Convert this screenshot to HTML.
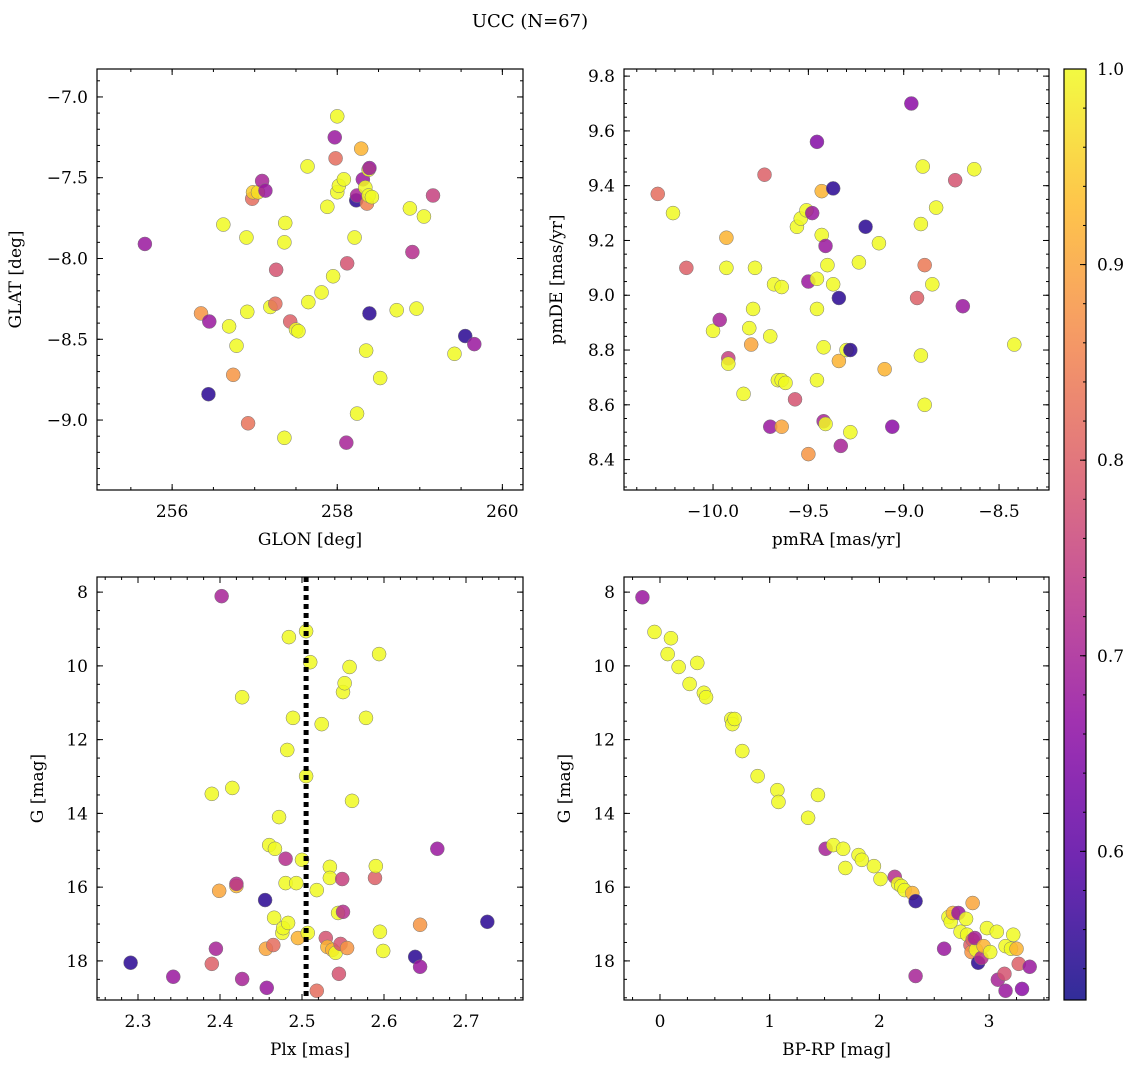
<!DOCTYPE html>
<html><head><meta charset="utf-8"><style>
html,body{margin:0;padding:0;background:#fff;}
svg{display:block;font-family:"DejaVu Serif","Liberation Serif",serif;}
</style></head><body>
<svg id="fig" width="1136" height="1068" viewBox="0 0 1136 1068" xmlns="http://www.w3.org/2000/svg">
<text x="530" y="27" font-size="18" text-anchor="middle">UCC (N=67)</text>
</svg>
<script>
// Panel 1: GLON vs GLAT
const p1x=[255.67,256.35,256.45,256.44,256.62,256.69,256.78,256.74,256.90,256.92,256.91,256.97,256.98,257.04,257.09,257.13,257.19,257.25,257.26,257.37,257.36,257.36,257.43,257.50,257.53,257.64,257.65,257.81,257.88,257.95,258.0,257.97,257.98,258.0,258.02,258.08,258.11,258.12,258.21,258.23,258.24,258.24,258.29,258.31,258.34,258.35,258.36,258.38,258.38,258.39,258.39,258.42,258.52,258.72,258.88,258.91,258.96,259.05,259.16,259.42,259.55,259.66];
const p1y=[-7.91,-8.34,-8.39,-8.84,-7.79,-8.42,-8.54,-8.72,-7.87,-9.02,-8.33,-7.63,-7.59,-7.59,-7.52,-7.58,-8.30,-8.28,-8.07,-7.78,-7.90,-9.11,-8.39,-8.44,-8.45,-7.43,-8.27,-8.21,-7.68,-8.11,-7.12,-7.25,-7.38,-7.59,-7.55,-7.51,-9.14,-8.03,-7.87,-7.64,-7.61,-8.96,-7.32,-7.51,-7.56,-8.57,-7.66,-7.61,-7.45,-7.44,-8.34,-7.62,-8.74,-8.32,-7.69,-7.96,-8.31,-7.74,-7.61,-8.59,-8.48,-8.53];
const p1c=[0.68,0.88,0.68,0.55,1,1,1,0.88,1,0.83,1,0.82,0.95,0.97,0.70,0.68,1,0.82,0.78,1,1,1,0.80,1,1,1,1,1,1,1,1,0.68,0.82,1,1,1,0.70,0.78,1,0.55,0.70,1,0.92,0.68,1,1,0.85,1,1,0.68,0.55,1,1,1,1,0.72,1,1,0.75,1,0.55,0.68];
// Panel 2: pmRA vs pmDE
const p2x=[-10.29,-10.21,-10.14,-10.0,-9.965,-9.93,-9.93,-9.92,-9.92,-9.84,-9.81,-9.80,-9.79,-9.78,-9.73,-9.70,-9.70,-9.68,-9.66,-9.64,-9.64,-9.64,-9.62,-9.57,-9.56,-9.54,-9.51,-9.50,-9.50,-9.48,-9.455,-9.455,-9.455,-9.455,-9.43,-9.43,-9.42,-9.42,-9.41,-9.41,-9.40,-9.37,-9.37,-9.34,-9.34,-9.33,-9.30,-9.28,-9.28,-9.235,-9.20,-9.13,-9.10,-9.06,-8.96,-8.93,-8.91,-8.91,-8.90,-8.89,-8.89,-8.85,-8.83,-8.73,-8.69,-8.63,-8.42];
const p2y=[9.37,9.30,9.10,8.87,8.91,9.21,9.10,8.77,8.75,8.64,8.88,8.82,8.95,9.10,9.44,8.85,8.52,9.04,8.69,8.69,9.03,8.52,8.68,8.62,9.25,9.28,9.31,8.42,9.05,9.30,9.06,8.95,9.56,8.69,9.22,9.38,8.81,8.54,8.53,9.18,9.11,9.39,9.04,8.99,8.76,8.45,8.80,8.50,8.80,9.12,9.25,9.19,8.73,8.52,9.70,8.99,8.78,9.26,9.47,9.11,8.60,9.04,9.32,9.42,8.96,9.46,8.82];
const p2c=[0.82,1,0.80,1,0.70,0.92,1,0.75,1,1,1,0.90,1,1,0.80,1,0.68,1,1,1,1,0.90,1,0.78,1,1,1,0.88,0.68,0.68,1,1,0.65,1,1,0.92,1,0.70,1,0.68,1,0.55,1,0.55,0.92,0.70,1,1,0.55,1,0.55,1,0.92,0.66,0.66,0.80,1,1,1,0.84,1,1,1,0.78,0.68,1,1];
// Panel 3: Plx vs G
const p3x=[2.291,2.343,2.390,2.390,2.395,2.399,2.402,2.415,2.420,2.420,2.427,2.427,2.455,2.456,2.457,2.460,2.465,2.466,2.467,2.472,2.476,2.477,2.480,2.480,2.483,2.484,2.482,2.489,2.493,2.495,2.500,2.505,2.505,2.507,2.510,2.518,2.518,2.524,2.529,2.531,2.534,2.534,2.537,2.541,2.544,2.545,2.547,2.549,2.550,2.550,2.552,2.555,2.558,2.561,2.578,2.589,2.590,2.594,2.595,2.599,2.644,2.638,2.644,2.665,2.726];
const p3y=[18.05,18.43,18.08,13.47,17.67,16.10,8.11,13.31,15.97,15.91,18.49,10.85,16.35,17.67,18.73,14.86,17.57,16.83,14.96,14.10,17.24,17.11,15.89,15.23,16.97,9.22,12.28,11.41,15.89,17.38,15.26,9.06,12.99,17.24,9.90,16.08,18.81,11.58,17.38,17.62,15.45,15.75,17.70,17.78,16.70,18.35,17.54,15.78,10.71,16.67,10.47,17.65,10.03,13.66,11.41,15.75,15.43,9.68,17.21,17.73,17.02,17.89,18.16,14.96,16.94];
const p3c=[0.55,0.68,0.80,1,0.70,0.90,0.70,1,0.93,0.72,0.70,1,0.55,0.90,0.68,1,0.82,1,1,1,1,1,1,0.72,1,1,1,1,1,0.92,1,1,1,1,1,1,0.82,1,0.78,0.92,1,1,0.92,1,1,0.78,0.78,0.75,1,0.72,1,0.88,1,1,1,0.80,1,1,1,1,0.88,0.55,0.68,0.68,0.55];
const p3median=[2.505];
// Panel 4: BP-RP vs G
const p4x=[-0.16,-0.05,0.07,0.10,0.17,0.27,0.34,0.40,0.42,0.65,0.66,0.68,0.75,0.89,1.07,1.08,1.35,1.44,1.51,1.58,1.67,1.69,1.81,1.84,1.95,2.01,2.14,2.17,2.20,2.23,2.30,2.33,2.33,2.59,2.63,2.65,2.67,2.72,2.74,2.79,2.80,2.83,2.84,2.85,2.85,2.88,2.87,2.90,2.93,2.95,2.98,3.01,3.07,3.08,3.14,3.15,3.15,3.20,3.22,3.25,3.27,3.30,3.37];
const p4y=[8.14,9.08,9.68,9.25,10.03,10.49,9.92,10.73,10.85,11.44,11.58,11.44,12.31,12.99,13.37,13.69,14.12,13.50,14.96,14.86,14.96,15.48,15.13,15.26,15.43,15.78,15.72,15.91,15.97,16.08,16.16,16.38,18.41,17.67,16.81,16.94,16.70,16.70,17.21,16.86,17.29,17.57,17.76,16.43,17.43,17.70,17.38,18.05,17.92,17.60,17.11,17.76,17.21,18.51,18.35,17.60,18.81,17.67,17.29,17.67,18.08,18.76,18.16];
const p4c=[0.68,1,1,1,1,1,1,1,1,1,1,1,1,1,1,1,1,1,0.70,1,1,1,1,1,1,1,0.72,1,1,1,0.92,0.55,0.70,0.68,1,1,0.92,0.68,1,1,1,0.80,0.88,0.90,0.80,1,0.70,0.55,0.72,0.92,1,1,1,0.70,0.78,1,0.68,1,1,0.92,0.80,0.66,0.68];
const cbTicks=[0.6,0.7,0.8,0.9,1.0];

const NS="http://www.w3.org/2000/svg";
const svg=document.getElementById('fig');
const VMIN=0.524,VMAX=1.0;
const stops=[[13,8,135],[84,2,163],[139,10,165],[185,50,137],[219,92,104],[244,136,73],[254,188,43],[240,249,33]];
function plasma(v){let t=Math.max(0,Math.min(1,(v-VMIN)/(VMAX-VMIN)))*(stops.length-1);let i=Math.min(Math.floor(t),stops.length-2),f=t-i;const a=stops[i],b=stops[i+1];return `rgb(${a.map((c,k)=>Math.round(c+(b[k]-c)*f)).join(',')})`;}
function el(tag,attrs,parent){const e=document.createElementNS(NS,tag);for(const k in attrs)e.setAttribute(k,attrs[k]);(parent||svg).appendChild(e);return e;}
function fmt(v,d){let s=v.toFixed(d);return s.replace('-','\u2212');}

function panel(o){
  const g=el('g',{});
  
  
  const sx=v=>o.L+(v-o.x0)/(o.x1-o.x0)*(o.R-o.L);
  const sy=o.yinv?(v=>o.T+(v-o.y0)/(o.y1-o.y0)*(o.B-o.T)):(v=>o.B-(v-o.y0)/(o.y1-o.y0)*(o.B-o.T));
  for(let i=0;i<o.xs.length;i++){
    const c=el('circle',{cx:sx(o.xs[i]),cy:sy(o.ys[i]),r:7,fill:plasma(o.cs[i]),'fill-opacity':0.85,stroke:'#777','stroke-width':0.5},g);
    
    
  }
  if(o.vline){for(const v of o.vline){const l=el('line',{x1:sx(v),x2:sx(v),y1:o.T,y2:o.B,stroke:'#000','stroke-width':5,'stroke-dasharray':'5,4'},g);
    
    }}
  const fr=el('rect',{x:o.L,y:o.T,width:o.R-o.L,height:o.B-o.T,fill:'none',stroke:'#000','stroke-width':1.2},g);
  
  
  const lo=Math.min(o.x0,o.x1),hi=Math.max(o.x0,o.x1);
  for(let v=Math.ceil(lo/o.xmin-1e-6)*o.xmin;v<=hi+1e-9;v+=o.xmin){const X=sx(v);el('line',{x1:X,x2:X,y1:o.B,y2:o.B-3,stroke:'#000'},g);el('line',{x1:X,x2:X,y1:o.T,y2:o.T+3,stroke:'#000'},g);}
  for(const v of o.xt){const X=sx(v);el('line',{x1:X,x2:X,y1:o.B,y2:o.B-6,stroke:'#000'},g);el('line',{x1:X,x2:X,y1:o.T,y2:o.T+6,stroke:'#000'},g);
    const t=el('text',{x:X,y:o.B+27,'font-size':17,'text-anchor':'middle'},g);t.textContent=fmt(v,o.xd);
    
    }
  const ylo=Math.min(o.y0,o.y1),yhi=Math.max(o.y0,o.y1);
  for(let v=Math.ceil(ylo/o.ymin-1e-6)*o.ymin;v<=yhi+1e-9;v+=o.ymin){const Y=sy(v);el('line',{x1:o.L,x2:o.L+3,y1:Y,y2:Y,stroke:'#000'},g);el('line',{x1:o.R,x2:o.R-3,y1:Y,y2:Y,stroke:'#000'},g);}
  for(const v of o.yt){const Y=sy(v);el('line',{x1:o.L,x2:o.L+6,y1:Y,y2:Y,stroke:'#000'},g);el('line',{x1:o.R,x2:o.R-6,y1:Y,y2:Y,stroke:'#000'},g);
    const t=el('text',{x:o.L-9,y:Y+6,'font-size':17,'text-anchor':'end'},g);t.textContent=fmt(v,o.yd);
    
    }
  const xl=el('text',{x:(o.L+o.R)/2,y:o.B+55,'font-size':17,'text-anchor':'middle'},g);xl.textContent=o.xlabel;
  
  
  const yx=o.L-o.ylo, yy=(o.T+o.B)/2;
  const yl=el('text',{x:yx,y:yy,'font-size':17,'text-anchor':'middle',transform:`rotate(-90 ${yx} ${yy})`},g);yl.textContent=o.ylabel;
  
  
}
panel({name:'glon-glat-panel',L:97,R:523,T:69,B:490,x0:255.09,x1:260.25,y0:-9.433,y1:-6.827,xs:p1x,ys:p1y,cs:p1c,xt:[256,258,260],xd:0,xmin:0.5,yt:[-9,-8.5,-8,-7.5,-7],yd:1,ymin:0.1,xlabel:'GLON [deg]',ylabel:'GLAT [deg]',ylo:76});
panel({name:'pm-panel',L:624,R:1049,T:69,B:490,x0:-10.467,x1:-8.238,y0:8.289,y1:9.826,xs:p2x,ys:p2y,cs:p2c,xt:[-10,-9.5,-9,-8.5],xd:1,xmin:0.1,yt:[8.4,8.6,8.8,9,9.2,9.4,9.6,9.8],yd:1,ymin:0.05,xlabel:'pmRA [mas/yr]',ylabel:'pmDE [mas/yr]',ylo:62});
panel({name:'plx-g-panel',L:97,R:523,T:577,B:1000,x0:2.25,x1:2.7695,y0:7.59,y1:19.06,yinv:true,xs:p3x,ys:p3y,cs:p3c,vline:p3median,xt:[2.3,2.4,2.5,2.6,2.7],xd:1,xmin:0.02,yt:[8,10,12,14,16,18],yd:0,ymin:0.5,xlabel:'Plx [mas]',ylabel:'G [mag]',ylo:54});
panel({name:'cmd-panel',L:624,R:1049,T:577,B:1000,x0:-0.328,x1:3.546,y0:7.59,y1:19.06,yinv:true,xs:p4x,ys:p4y,cs:p4c,xt:[0,1,2,3],xd:0,xmin:0.25,yt:[8,10,12,14,16,18],yd:0,ymin:0.5,xlabel:'BP-RP [mag]',ylabel:'G [mag]',ylo:54});

const cb=el('g',{});


const defs=el('defs',{},cb);
const lg=el('linearGradient',{id:'cbg',x1:0,y1:1,x2:0,y2:0},defs);
for(let k=0;k<=20;k++){const v=VMIN+(VMAX-VMIN)*k/20;el('stop',{offset:k/20,'stop-color':plasma(v),'stop-opacity':0.85},lg);}
const CT=69,CB=1000,CL=1064,CR=1086;
const cy=v=>CB-(v-VMIN)/(VMAX-VMIN)*(CB-CT);
el('rect',{x:CL,y:CT,width:CR-CL,height:CB-CT,fill:'url(#cbg)',stroke:'#000','stroke-width':1.2},cb);
for(let v=0.54;v<=1.0001;v+=0.02){el('line',{x1:CR,x2:CR-3,y1:cy(v),y2:cy(v),stroke:'#000'},cb);}
for(const v of cbTicks){const Y=cy(v);el('line',{x1:CR,x2:CR-6,y1:Y,y2:Y,stroke:'#000'},cb);
  const t=el('text',{x:CR+11,y:Y+6,'font-size':17},cb);t.textContent=v.toFixed(1);
  
  }
</script>
</body></html>
